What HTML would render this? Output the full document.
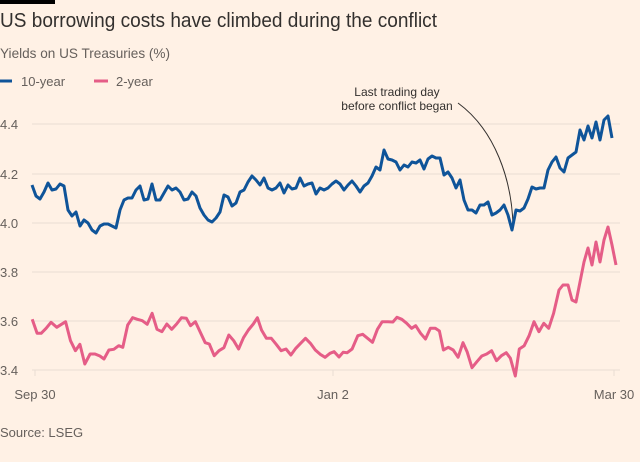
<!DOCTYPE html>
<html><head><meta charset="utf-8"><style>
html,body{margin:0;padding:0;background:#fff1e5;}
body{width:640px;height:457px;overflow:hidden;font-family:"Liberation Sans",sans-serif;}
</style></head><body>
<svg width="640" height="457" xmlns="http://www.w3.org/2000/svg" font-family="Liberation Sans, sans-serif">
<rect width="640" height="457" fill="#fff1e5"/>
<rect x="0" y="0" width="55" height="4" fill="#000"/>
<text x="0" y="27" font-size="20" fill="#33302e" textLength="437" lengthAdjust="spacingAndGlyphs">US borrowing costs have climbed during the conflict</text>
<text x="0" y="58" font-size="14" fill="#66605c" textLength="170" lengthAdjust="spacingAndGlyphs">Yields on US Treasuries (%)</text>
<line x1="0" y1="81" x2="12" y2="81" stroke="#0f5499" stroke-width="3"/>
<text x="21" y="86" font-size="13" fill="#66605c">10-year</text>
<line x1="94" y1="81" x2="108" y2="81" stroke="#e55d87" stroke-width="3"/>
<text x="116" y="86" font-size="13" fill="#66605c">2-year</text>
<g stroke="#e8ddd3" stroke-width="1">
<line x1="32" y1="124" x2="620" y2="124"/><line x1="32" y1="174" x2="620" y2="174"/>
<line x1="32" y1="223" x2="620" y2="223"/><line x1="32" y1="272" x2="620" y2="272"/>
<line x1="32" y1="321" x2="620" y2="321"/><line x1="32" y1="370" x2="620" y2="370"/>
<line x1="35" y1="370" x2="35" y2="376"/><line x1="333" y1="370" x2="333" y2="376"/><line x1="614" y1="370" x2="614" y2="376"/>
</g>
<g font-size="13" fill="#66605c">
<text x="0" y="129">4.4</text><text x="0" y="179">4.2</text><text x="0" y="228">4.0</text>
<text x="0" y="277">3.8</text><text x="0" y="326">3.6</text><text x="0" y="375">3.4</text>
<text x="35" y="399" text-anchor="middle">Sep 30</text>
<text x="333" y="399" text-anchor="middle">Jan 2</text>
<text x="614" y="399" text-anchor="middle">Mar 30</text>
<text x="0" y="437">Source: LSEG</text>
</g>
<g font-size="12" fill="#33302e" text-anchor="middle">
<text x="397" y="96">Last trading day</text>
<text x="397" y="110">before conflict began</text>
</g>
<path d="M458,103 C495,130 512,180 513,226" fill="none" stroke="#33302e" stroke-width="1"/>
<polyline id="p10" fill="none" stroke="#0f5499" stroke-width="3" stroke-linejoin="round"/>
<polyline id="p2" fill="none" stroke="#e55d87" stroke-width="3" stroke-linejoin="round"/>
<script>
var t=[[32,185],[36,196],[40,199],[44,192],[48,183],[52,190],[56,189],[60,184],[64,186],[68,210],[72,216],[76,212],[80,226],[84,220],[88,223],[92,230],[96,233],[100,226],[104,224],[108,224],[112,226],[116,228],[120,210],[124,200],[128,198],[132,198],[136,190],[140,186],[144,200],[148,199],[152,184],[156,200],[160,200],[164,193],[168,186],[172,190],[176,188],[180,192],[184,200],[188,199],[192,192],[196,196],[200,208],[204,215],[208,220],[212,222],[216,218],[220,212],[224,195],[228,197],[232,206],[236,203],[240,192],[244,190],[248,182],[252,176],[256,180],[260,185],[264,178],[268,188],[272,190],[276,188],[280,183],[284,193],[288,185],[292,189],[296,188],[300,178],[304,186],[308,184],[312,183],[316,194],[320,188],[324,190],[328,188],[332,184],[336,181],[340,184],[344,190],[348,185],[352,181],[356,186],[360,192],[364,186],[368,183],[372,176],[376,167],[380,170],[384,150],[388,159],[392,160],[396,162],[400,170],[404,165],[408,167],[412,162],[416,163],[420,160],[424,169],[428,159],[432,156],[436,158],[440,158],[444,175],[448,172],[452,178],[456,188],[460,180],[464,200],[468,210],[472,210],[476,213],[480,205],[484,205],[488,202],[492,215],[496,213],[500,210],[504,205],[508,215],[512,230],[516,210],[520,211],[524,208],[528,199],[532,187],[536,189],[540,188],[544,188],[548,170],[552,162],[556,157],[560,168],[564,172],[568,158],[572,155],[576,152],[580,130],[584,140],[588,126],[592,138],[596,122],[600,140],[604,120],[608,116],[612,138]];
document.getElementById('p10').setAttribute('points',t.map(function(p){return p.join(',')}).join(' '));
var z=[[78,58],[90,100],[100,100],[112,85],[124,67],[138,82],[160,65],[172,122],[184,152],[195,133],[207,192],[220,162],[232,162],[244,168],[254,177],[266,150],[278,148],[290,137],[300,142],[312,75],[324,53],[336,58],[348,62],[360,73],[372,40],[384,88],[396,95],[408,72],[420,88],[432,72],[444,53],[456,55],[466,77],[478,65],[490,97],[502,128],[512,132],[524,167],[536,152],[548,143],[560,105],[572,122],[584,147],[596,113],[608,90],[620,72],[630,53],[640,90],[652,115],[664,115],[676,133],[688,152],[700,147],[712,165],[724,145],[736,130],[748,115],[760,130],[772,150],[784,163],[796,172],[808,160],[818,155],[830,171],[840,157],[850,158],[862,147],[876,107],[888,103],[900,115],[912,127],[924,88],[936,65],[950,65],[962,66],[972,52],[984,58],[996,70],[1008,85],[1018,77],[1030,100],[1042,117],[1054,85],[1066,85],[1076,93],[1086,150],[1098,142],[1110,150],[1122,172],[1134,128],[1144,155],[1156,203],[1168,185],[1180,168],[1192,162],[1204,152],[1216,182],[1228,167],[1240,158],[1250,175],[1262,228],[1272,147],[1284,137],[1296,107],[1308,65],[1320,95],[1332,70],[1344,85],[1356,40]];
var pts=z.map(function(p){return [33+(p[0]-80)*0.408,300+p[1]/3];});
pts=pts.concat([[559,290],[563,285],[568,285],[572,300],[576,302],[580,282],[584,262],[588,248],[592,265],[596,242],[600,262],[604,240],[608,227],[612,245],[616,265]]);
document.getElementById('p2').setAttribute('points',pts.map(function(p){return p[0].toFixed(1)+','+p[1].toFixed(1)}).join(' '));
</script>
</svg>
</body></html>
